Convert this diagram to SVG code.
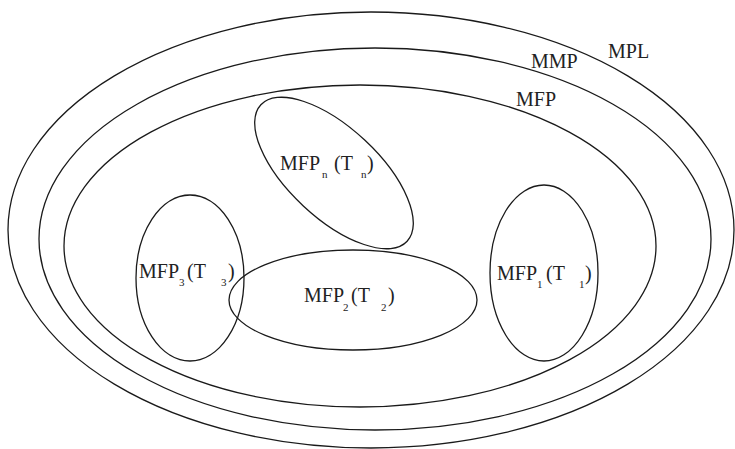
<svg xmlns="http://www.w3.org/2000/svg" width="735" height="449" viewBox="0 0 735 449">
<style>
.e{fill:none;stroke:#1a1a1a;stroke-width:1.3}
text{font-family:"Liberation Serif",serif;font-size:20px;fill:#222}
.s{font-size:11px}
</style>
<rect width="735" height="449" fill="#fff"/>
<g id="MPL">
<ellipse class="e" cx="371" cy="230" rx="363" ry="218"/>
<text x="608" y="58">MPL</text>
</g>
<g id="MMP">
<ellipse class="e" cx="375" cy="239" rx="336" ry="191"/>
<text x="531" y="68">MMP</text>
</g>
<g id="MFP">
<ellipse class="e" cx="360" cy="246" rx="296" ry="161"/>
<text x="516" y="106">MFP</text>
</g>
<g id="MFPn">
<ellipse class="e" cx="334" cy="173" rx="100" ry="45" transform="rotate(43 334 173)"/>
<text y="170"><tspan x="280">MFP</tspan><tspan class="s" x="322" y="178">n</tspan><tspan x="334" y="170">(T</tspan><tspan class="s" x="361" y="178">n</tspan><tspan x="367" y="170">)</tspan></text>
</g>
<g id="MFP3">
<ellipse class="e" cx="190" cy="278" rx="54" ry="83"/>
<text y="278"><tspan x="139">MFP</tspan><tspan class="s" x="179" y="286">3</tspan><tspan x="187" y="278">(T</tspan><tspan class="s" x="221" y="286">3</tspan><tspan x="228" y="278">)</tspan></text>
</g>
<g id="MFP2">
<ellipse class="e" cx="353" cy="300" rx="124" ry="50"/>
<text y="302"><tspan x="304">MFP</tspan><tspan class="s" x="343" y="311">2</tspan><tspan x="351" y="302">(T</tspan><tspan class="s" x="381" y="311">2</tspan><tspan x="388" y="302">)</tspan></text>
</g>
<g id="MFP1">
<ellipse class="e" cx="544" cy="273" rx="54" ry="88"/>
<text y="280"><tspan x="497">MFP</tspan><tspan class="s" x="537" y="288">1</tspan><tspan x="546" y="280">(T</tspan><tspan class="s" x="579" y="288">1</tspan><tspan x="585" y="280">)</tspan></text>
</g>
<g id="connectors"></g>
</svg>
